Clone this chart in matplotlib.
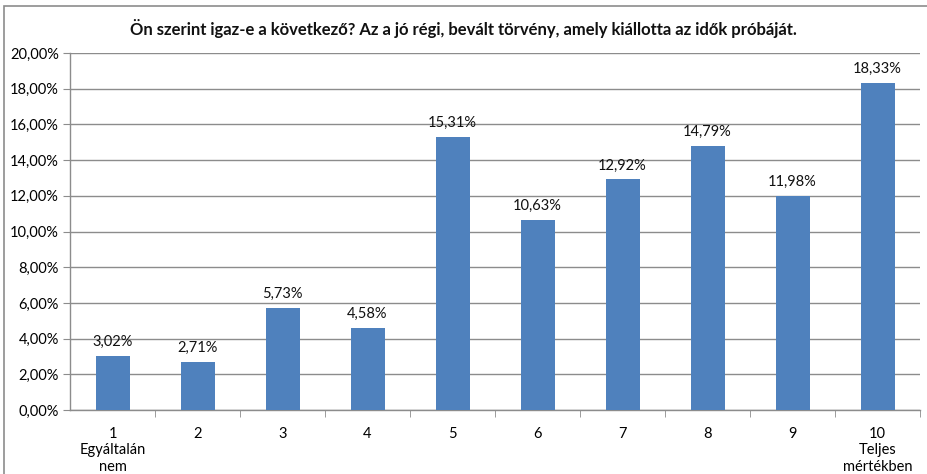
import matplotlib
matplotlib.use("Agg")
import matplotlib.pyplot as plt
from matplotlib.patches import Rectangle
from matplotlib.ticker import FuncFormatter, MultipleLocator

plt.rcParams['font.family'] = ['Lato', 'DejaVu Sans']

categories = ["1\nEgyáltalán\nnem", "2", "3", "4", "5", "6", "7", "8", "9", "10\nTeljes\nmértékben"]
values = [3.02, 2.71, 5.73, 4.58, 15.31, 10.63, 12.92, 14.79, 11.98, 18.33]
title = "Ön szerint igaz-e a következő? Az a jó régi, bevált törvény, amely kiállotta az idők próbáját."

bar_color = "#4F81BD"
grid_color = "#8C8C8C"

fig = plt.figure(figsize=(9.27, 4.74), dpi=100)
ax = fig.add_axes([70 / 927, 1 - 410 / 474, 850 / 927, 357 / 474])

x = list(range(len(categories)))
bars = ax.bar(x, values, width=0.4, color=bar_color, zorder=3)

for xi, v in zip(x, values):
    ax.annotate(f"{v:.2f}%".replace(".", ","), (xi, v), xytext=(0, 5),
                textcoords="offset points", ha="center", va="bottom",
                fontsize=10.5, color="#111111")

ax.set_xlim(-0.5, len(categories) - 0.5)
ax.set_ylim(0, 20)
ax.yaxis.set_major_locator(MultipleLocator(2))
ax.yaxis.set_major_formatter(FuncFormatter(lambda v, p: f"{v:.2f}%".replace(".", ",")))
ax.grid(axis="y", color=grid_color, linewidth=1.0, zorder=0)

ax.set_xticks(x)
ax.set_xticklabels(categories, fontsize=10.5, linespacing=1.25)
ax.set_xticks([i + 0.5 for i in x], minor=True)
ax.tick_params(axis="x", which="major", length=0, pad=12)
ax.tick_params(axis="x", which="minor", length=5, color=grid_color, direction="out")
ax.tick_params(axis="y", length=5, color=grid_color, labelsize=10.5, pad=3)

for side in ("top", "right"):
    ax.spines[side].set_visible(False)
for side in ("left", "bottom"):
    ax.spines[side].set_color(grid_color)
    ax.spines[side].set_linewidth(1.0)

fig.text(0.5, 1 - 28 / 474, title, ha="center", va="center",
         fontsize=12, fontweight="bold", color="#111111")

# outer chart frame
fig.patches.append(Rectangle((4 / 927, -0.1), 1.2, 1 - 6 / 474 + 0.1,
                             transform=fig.transFigure, fill=False,
                             edgecolor="#8C8C8C", linewidth=1.2))

fig.savefig("out.png", dpi=100)
